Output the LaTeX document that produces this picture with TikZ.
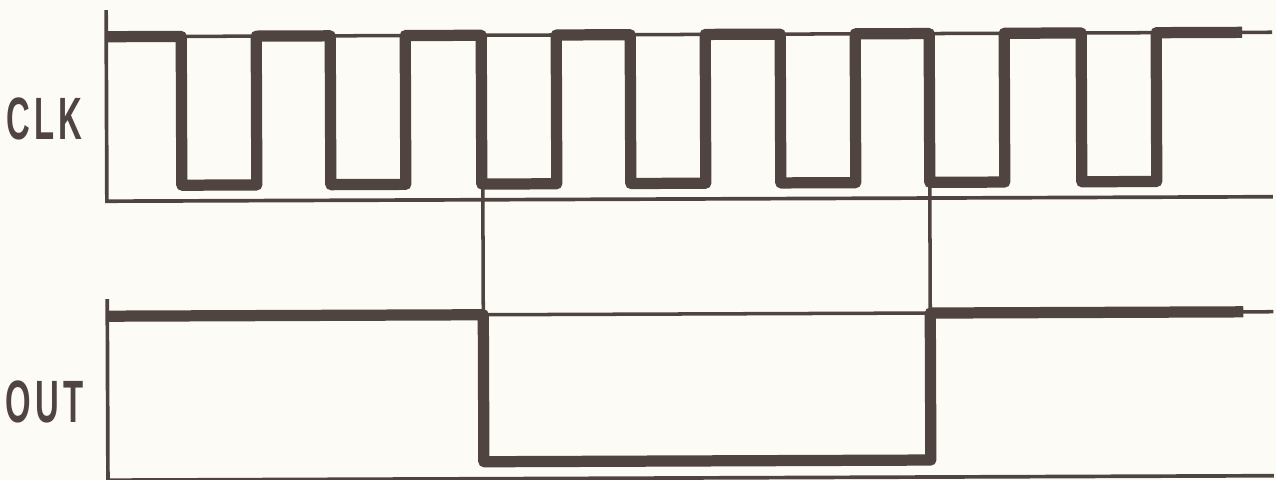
\documentclass[tikz,border=0pt]{standalone}
\usepackage{fontspec}
\setmainfont{Liberation Sans}
\definecolor{ink}{RGB}{80,68,64}
\definecolor{paper}{RGB}{252,251,246}
\begin{document}
\begin{tikzpicture}[x=0.02cm,y=-0.02cm,
  axisline/.style={draw=ink,line width=2.1pt},
  refline/.style={draw=ink,line width=2pt},
  sig/.style={draw=ink,line width=6.4pt,line join=round,line cap=butt},
  lab/.style={text=ink,font=\fontsize{34}{34}\selectfont\bfseries,xscale=0.55,inner sep=0pt}]
\fill[paper] (0,0) rectangle (1276,480);
\useasboundingbox (0,0) rectangle (1276,480);
\begin{scope}[rotate around={0.22:(680,240)}]
  % labels
  \node[lab] (clk) at (45,116) {C\kern4.5pt L\kern4.5pt K};
  \node[lab] (out) at (44,400) {O\kern4.5pt U\kern4.5pt T};
  % CLK axes
  \draw[axisline] (107,8) -- (107,199) -- (1273,199);
  \draw[refline] (107,34.5) -- (1273,34.5);
  % CLK waveform
  \draw[sig] (107,34.5)
    \foreach \f in {182,331,482,631,781,930,1082} {
      -- (\f,34.5) -- (\f,183.3) -- (\f+75,183.3) -- (\f+75,34.5)
    } -- (1243,34.5);
  % OUT axes
  \draw[axisline] (107,297) -- (107,478) -- (1273,478);
  \draw[refline] (107,314) -- (1273,314);
  % OUT waveform
  \draw[sig] (107,314) -- (483,314) -- (483,461) -- (930,461) -- (930,314) -- (1243,314);
  % thin timing lines
  \draw[refline] (483,183.3) -- (483,314);
  \draw[refline] (930,183.3) -- (930,314);
\end{scope}
\end{tikzpicture}
\end{document}
